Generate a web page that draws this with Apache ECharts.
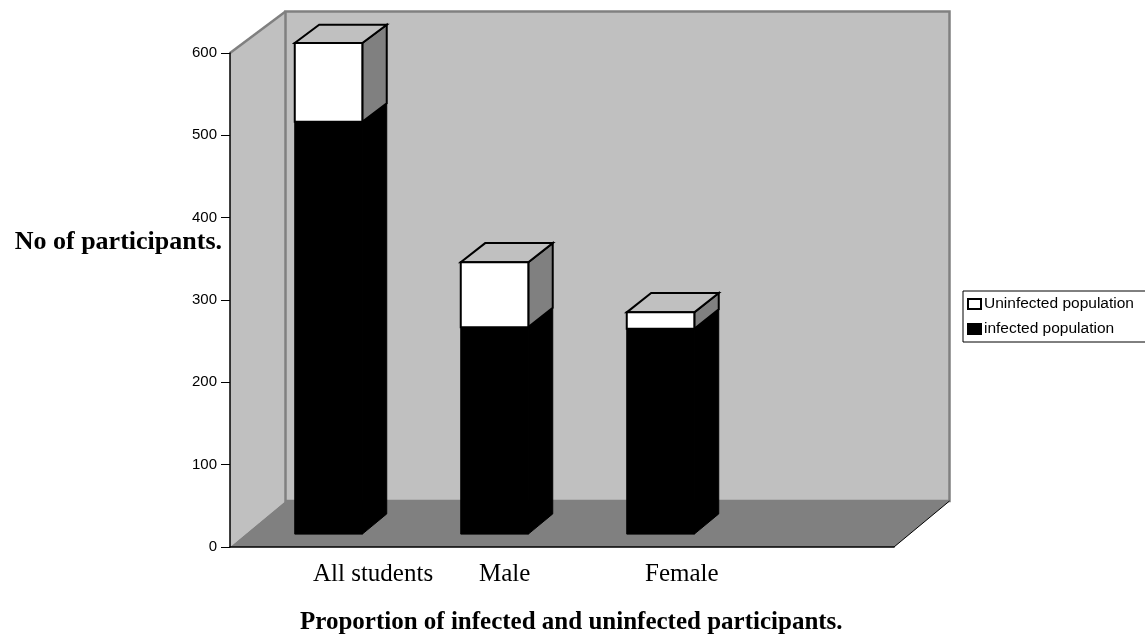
<!DOCTYPE html>
<html>
<head>
<meta charset="utf-8">
<script src="https://cdn.jsdelivr.net/npm/echarts@6/dist/echarts.min.js"></script>
<style>
  html, body { margin: 0; padding: 0; background: #fff; }
  #main { width: 1145px; height: 638px; }
</style>
</head>
<body>
<div id="main"></div>
<script>
// chart data
var categories = ['All students', 'Male', 'Female', ''];
var infected = [502, 252, 250];
var uninfected = [96, 79, 20];
var seriesNames = ['Uninfected population', 'infected population'];
var yMin = 0, yMax = 600, yStep = 100;

// 3d look (pixels / fractions of the depth)
var DEPTH_DX = 55.5;
var DEPTH_DY_BOTTOM = 46;
var DEPTH_DY_TOP = 41.6;
var BAR_FRONT = 0.28;
var BAR_BACK = 0.72;
var BAR_WIDTH = 0.407;

var serif = '"Liberation Serif", "Times New Roman", serif';
var sans = '"Liberation Sans", Arial, sans-serif';

function shift(cs, pt, f) {
    var t = (cs.y + cs.height - pt[1]) / cs.height;
    var dy = DEPTH_DY_BOTTOM + (DEPTH_DY_TOP - DEPTH_DY_BOTTOM) * t;
    return [pt[0] + f * DEPTH_DX, pt[1] - f * dy];
}

function renderWalls(params, api) {
    var cs = params.coordSys;
    var fbl = [cs.x, cs.y + cs.height];
    var ftl = [cs.x, cs.y];
    var fbr = [cs.x + cs.width, cs.y + cs.height];
    var ftr = [cs.x + cs.width, cs.y];
    var bbl = shift(cs, fbl, 1), btl = shift(cs, ftl, 1);
    var bbr = shift(cs, fbr, 1), btr = shift(cs, ftr, 1);
    return {
        type: 'group',
        children: [
            { type: 'polygon', shape: { points: [fbl, ftl, btl, bbl] },
              style: { fill: '#c0c0c0', stroke: null } },
            { type: 'polygon', shape: { points: [btl, btr, bbr, bbl] },
              style: { fill: '#c0c0c0', stroke: '#808080', lineWidth: 2.5 } },
            { type: 'line', shape: { x1: ftl[0], y1: ftl[1], x2: btl[0], y2: btl[1] },
              style: { stroke: '#808080', lineWidth: 2.5 } },
            { type: 'polygon', shape: { points: [fbl, fbr, bbr, bbl] },
              style: { fill: '#808080', stroke: null } },
            { type: 'line', shape: { x1: fbr[0], y1: fbr[1], x2: bbr[0], y2: bbr[1] },
              style: { stroke: '#000', lineWidth: 1 } }
        ]
    };
}

function makeBox(front, side, top, stroke, lineWidth) {
    return function (params, api) {
        var cs = params.coordSys;
        var cat = api.value(0), lo = api.value(1), hi = api.value(2);
        var pLo = api.coord([cat, lo]);
        var pHi = api.coord([cat, hi]);
        var half = api.size([1, 0])[0] * BAR_WIDTH / 2;
        var x0 = pLo[0] - half, x1 = pLo[0] + half;
        var fl0 = shift(cs, [x0, pLo[1]], BAR_FRONT), fr0 = shift(cs, [x1, pLo[1]], BAR_FRONT);
        var fl1 = shift(cs, [x0, pHi[1]], BAR_FRONT), fr1 = shift(cs, [x1, pHi[1]], BAR_FRONT);
        var br0 = shift(cs, [x1, pLo[1]], BAR_BACK), br1 = shift(cs, [x1, pHi[1]], BAR_BACK);
        var bl1 = shift(cs, [x0, pHi[1]], BAR_BACK);
        var st = { stroke: stroke, lineWidth: lineWidth, lineJoin: 'miter' };
        var kids = [
            { type: 'polygon', shape: { points: [fr0, fr1, br1, br0] },
              style: Object.assign({ fill: side }, st) }
        ];
        if (top) {
            kids.push({ type: 'polygon', shape: { points: [fl1, fr1, br1, bl1] },
                        style: Object.assign({ fill: top }, st) });
        }
        kids.push({ type: 'polygon', shape: { points: [fl0, fl1, fr1, fr0] },
                    style: Object.assign({ fill: front }, st) });
        return { type: 'group', children: kids };
    };
}

var infectedData = infected.map(function (v, i) { return [i, 0, v]; });
var uninfectedData = uninfected.map(function (v, i) { return [i, infected[i], infected[i] + v]; });

var chart = echarts.init(document.getElementById('main'));
chart.setOption({
    backgroundColor: '#fff',
    animation: false,
    title: [
        {
            text: 'Proportion of infected and uninfected participants.',
            left: 300, top: 610, padding: 0,
            textStyle: { fontFamily: serif, fontSize: 25, fontWeight: 'bold', color: '#000' }
        },
        {
            text: 'No of participants.',
            right: 923, top: 229, padding: 0,
            textStyle: { fontFamily: serif, fontSize: 26, fontWeight: 'bold', color: '#000' }
        }
    ],
    legend: {
        data: seriesNames,
        orient: 'vertical',
        left: 963, top: 291,
        padding: [5, 20, 5, 4],
        itemGap: 9,
        itemWidth: 13, itemHeight: 10,
        icon: 'rect',
        borderColor: '#000', borderWidth: 1,
        textStyle: { fontFamily: sans, fontSize: 15.5, color: '#000', padding: [0, 0, 0, -2] }
    },
    grid: { left: 230, right: 251, top: 53, bottom: 91 },
    xAxis: {
        type: 'category',
        data: categories,
        z: 5,
        axisLine: { lineStyle: { color: '#000', width: 1.5 } },
        axisTick: { length: 9, lineStyle: { color: '#000', width: 1 } },
        axisLabel: { align: 'left', margin: 15, fontFamily: serif, fontSize: 25, color: '#000' },
        splitLine: { show: false }
    },
    yAxis: {
        type: 'value',
        min: yMin, max: yMax, interval: yStep,
        z: 5,
        axisLine: { show: true, lineStyle: { color: '#000', width: 1.5 } },
        axisTick: { show: true, length: 9, lineStyle: { color: '#000', width: 1 } },
        axisLabel: { margin: 13, fontFamily: sans, fontSize: 15, color: '#000' },
        splitLine: { show: false }
    },
    series: [
        {
            type: 'custom', name: 'walls', silent: true, clip: false, z: 1,
            renderItem: renderWalls,
            data: [[0, 0]],
            encode: { x: 0, y: 1 }
        },
        {
            type: 'custom', name: seriesNames[1], clip: false, z: 2,
            itemStyle: { color: '#000', borderColor: '#000', borderWidth: 1 },
            renderItem: makeBox('#000', '#000', null, '#000', 1),
            data: infectedData,
            encode: { x: 0, y: [1, 2] }
        },
        {
            type: 'custom', name: seriesNames[0], clip: false, z: 3,
            itemStyle: { color: '#fff', borderColor: '#000', borderWidth: 1.5 },
            renderItem: makeBox('#fff', '#808080', '#c0c0c0', '#000', 2),
            data: uninfectedData,
            encode: { x: 0, y: [1, 2] }
        }
    ]
});
</script>
</body>
</html>
